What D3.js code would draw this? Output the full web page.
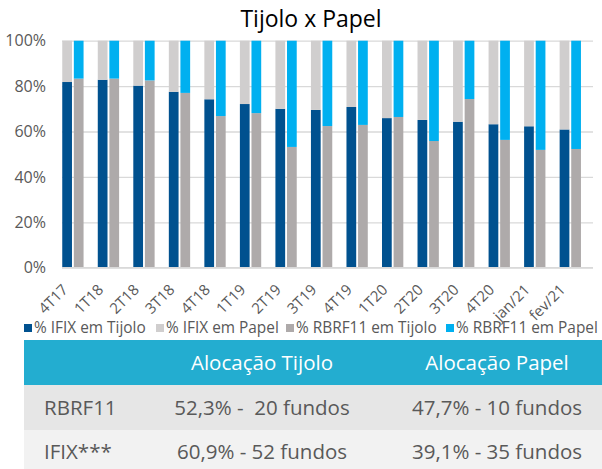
<!DOCTYPE html>
<html>
<head>
<meta charset="utf-8">
<script src="https://cdn.jsdelivr.net/npm/d3@7"></script>
<style>
  body { margin: 0; background: #fff; }
  text { font-family: "Open Sans", sans-serif; }
</style>
</head>
<body>
<div id="chart"></div>
<script>
// categorias (trimestres / meses)
const categories = ["4T17", "1T18", "2T18", "3T18", "4T18", "1T19", "2T19", "3T19",
  "4T19", "1T20", "2T20", "3T20", "4T20", "jan/21", "fev/21"]

// % em Tijolo; Papel = 100 - Tijolo
const ifixTijolo = [81.8, 82.8, 80.2, 77.5, 74.2, 72.1, 70.0, 69.5, 70.8, 65.9, 65.1, 64.3, 63.2, 62.3, 60.9]
const rbrfTijolo = [83.3, 83.3, 82.5, 77.0, 66.8, 68.1, 53.2, 62.4, 62.9, 66.4, 55.8, 74.3, 56.3, 51.9, 52.3]

const yTicks = [0, 20, 40, 60, 80, 100]

const legendLabels = ["% IFIX em Tijolo", "% IFIX em Papel", "% RBRF11 em Tijolo", "% RBRF11 em Papel"]
const colors = ["#00518f", "#d0cece", "#aeaaaa", "#00b0f0"]

// tabela de alocação
const tableHeader = ["", "Alocação Tijolo", "Alocação Papel"]
const tableRows = [
  ["RBRF11", "52,3% -  20 fundos", "47,7% - 10 fundos"],
  ["IFIX***", "60,9% - 52 fundos", "39,1% - 35 fundos"]
]

const W = 602, H = 469
const plot = {left: 62, right: 593, top: 40.7, bottom: 267.7}

const svg = d3.select("#chart")
  .append("svg")
    .attr("width", W)
    .attr("height", H)

svg.append("text")
  .attr("x", 311)
  .attr("y", 27)
  .attr("text-anchor", "middle")
  .attr("font-size", 23)
  .attr("fill", "#000")
  .text("Tijolo x Papel")

const x = d3.scaleBand()
  .domain(categories)
  .range([plot.left, plot.right])
  .paddingInner(0.4)
  .paddingOuter(0.173)
  .align(0.02)

const xs = d3.scaleBand()
  .domain(["ifix", "rbrf"])
  .range([0, x.bandwidth()])
  .paddingInner(0.16)

const y = d3.scaleLinear()
  .domain([0, 100])
  .range([plot.bottom, plot.top])

// grid
svg.append("g")
  .attr("transform", `translate(${plot.left},0)`)
  .call(d3.axisLeft(y).tickValues(yTicks).tickSize(-(plot.right - plot.left)).tickFormat(""))
  .call(g => g.select(".domain").remove())
  .call(g => g.selectAll("line").attr("stroke", "#d9d9d9").attr("stroke-width", 1.3))

// y labels
svg.append("g")
  .attr("transform", `translate(${plot.left},0)`)
  .call(d3.axisLeft(y).tickValues(yTicks).tickSize(0).tickPadding(16).tickFormat(d => d + "%"))
  .call(g => g.select(".domain").remove())
  .call(g => g.selectAll("text").attr("font-size", 16).attr("fill", "#595959")
    .attr("font-family", "'Open Sans', sans-serif"))

const series = [
  {key: "ifix", vals: ifixTijolo, c1: colors[0], c2: colors[1]},
  {key: "rbrf", vals: rbrfTijolo, c1: colors[2], c2: colors[3]}
]

series.forEach(s => {
  const g = svg.append("g")
  const rows = categories.map((c, i) => ({c, v: s.vals[i]}))
  // tijolo
  g.selectAll(".t").data(rows).join("rect")
    .attr("x", d => x(d.c) + xs(s.key))
    .attr("width", xs.bandwidth())
    .attr("y", d => y(d.v))
    .attr("height", d => y(0) - y(d.v))
    .attr("fill", s.c1)
  // papel
  g.selectAll(".p").data(rows).join("rect")
    .attr("x", d => x(d.c) + xs(s.key))
    .attr("width", xs.bandwidth())
    .attr("y", y(100))
    .attr("height", d => y(d.v) - y(100))
    .attr("fill", s.c2)
})

// eixo x
svg.append("g")
  .attr("transform", `translate(0,${plot.bottom})`)
  .call(d3.axisBottom(x).tickSize(0).tickFormat(""))
  .call(g => g.select(".domain").attr("stroke", "#d9d9d9").attr("stroke-width", 1.3)
    .attr("d", `M${plot.left},0H${plot.right}`))

svg.append("g")
  .selectAll("text")
  .data(categories)
  .join("text")
    .attr("transform", d => `translate(${x(d) + x.bandwidth() / 2 - 4},${plot.bottom + 23}) rotate(-45)`)
    .attr("text-anchor", "end")
    .attr("font-size", 15)
    .attr("fill", "#595959")
    .text(d => d)

// legenda
const legX = [24, 156, 286, 446]
const leg = svg.append("g").attr("transform", "translate(0,328)")
legendLabels.forEach((l, i) => {
  leg.append("rect")
    .attr("x", legX[i]).attr("y", -4).attr("width", 8).attr("height", 8)
    .attr("fill", colors[i])
  leg.append("text")
    .attr("x", legX[i] + 10).attr("y", 0).attr("dy", "0.35em")
    .attr("font-size", 15.4).attr("fill", "#595959")
    .text(l)
})

// tabela
const tbl = {left: 24, right: 602, top: 340, rowH: [45, 45, 39]}
const rowFill = ["#23add0", "#e6e6e6", "#f2f2f2"]
const colX = [44, 262, 497]
const colAnchor = ["start", "middle", "middle"]
let ty = tbl.top
const allRows = [tableHeader].concat(tableRows)
allRows.forEach((r, i) => {
  svg.append("rect")
    .attr("x", tbl.left).attr("y", ty)
    .attr("width", tbl.right - tbl.left).attr("height", tbl.rowH[i])
    .attr("fill", rowFill[i])
  r.forEach((cell, j) => {
    svg.append("text")
      .attr("x", colX[j]).attr("y", ty + (i === 2 ? 22 : tbl.rowH[i] / 2))
      .attr("dy", "0.35em")
      .attr("text-anchor", colAnchor[j])
      .attr("font-size", 20.5)
      .attr("fill", i === 0 ? "#fff" : "#595959")
      .style("white-space", "pre")
      .text(cell)
  })
  ty += tbl.rowH[i]
})
</script>
</body>
</html>
